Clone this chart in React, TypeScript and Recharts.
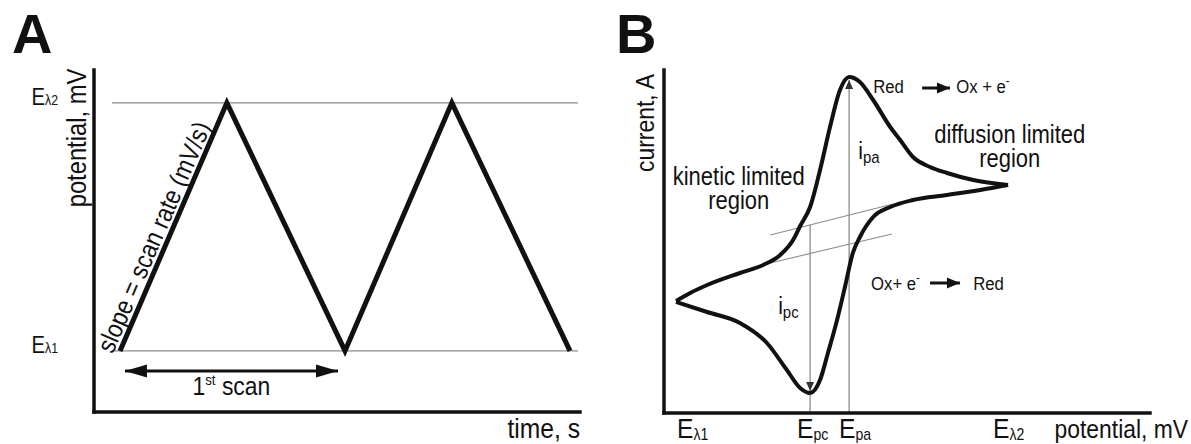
import React from "react";
import { LineChart, Line, XAxis, YAxis, ReferenceLine, ReferenceDot } from "recharts";

const FONT = "'Liberation Sans', Arial, Helvetica, sans-serif";
const INK = "#111111";
const GUIDE = "#8c8c8c";
const SQUEEZE = 0.88; // source lettering is slightly condensed

// ---- A: applied potential vs time (triangular sweep)
const scanTime = [0, 9.5, 20, 29.5, 40]; // s
const scanPotential = [-200, 600, -200, 600, -200]; // mV
const switchPotentials = [-200, 600]; // E_λ1, E_λ2
const switchNames = ["λ1", "λ2"];

// ---- B: cyclic voltammogram (forward = anodic sweep, reverse = cathodic sweep)
const forwardE = [-200, -166, -125, -46, 10, 51, 82, 99, 123, 147, 171, 195, 217, 243, 275, 316, 340, 371, 412, 453, 516, 600];
const forwardI = [-0.1, 0.7, 1.5, 2.7, 3.5, 4.5, 6.0, 7.4, 9.3, 13.0, 17.3, 21.0, 22.3, 21.8, 20.0, 17.3, 16.0, 14.3, 13.3, 12.7, 12.0, 11.5];
const reverseE = [-200, -125, -46, 19, 67, 99, 123, 147, 166, 188, 207, 226, 243, 275, 316, 371, 453, 533, 600];
const reverseI = [-0.2, -1.2, -2.3, -4.3, -7.0, -8.8, -9.3, -8.0, -5.3, -2.0, 1.3, 4.7, 6.3, 8.3, 9.3, 10.0, 10.5, 11.0, 11.5];
const cvTicks = [-200, 123, 217, 600]; // E_λ1, E_pc, E_pa, E_λ2
const cvTickNames = ["λ1", "pc", "pa", "λ2"];
const epc = 123;
const epa = 217;
// extrapolated baselines for reading the peak currents
const upperBaseE = [27, 323];
const upperBaseI = [6.5, 9.6];
const lowerBaseE = [27, 320];
const lowerBaseI = [3.7, 6.6];

const waveData = scanTime.map((t, i) => ({ time: t, potential: scanPotential[i] }));
const forwardData = forwardE.map((e, i) => ({ potential: e, current: forwardI[i] }));
const reverseData = reverseE.map((e, i) => ({ potential: e, current: reverseI[i] }));

const cvTickNudge = [1, -13, -10, -15];
const axisStyle = { stroke: INK, strokeWidth: 3.5, strokeLinecap: "square" as const };

function Txt({ x, y, size, anchor = "start", rotate = 0, children }: any) {
  return (
    <text
      transform={`translate(${x},${y}) rotate(${rotate}) scale(${SQUEEZE},1)`}
      x={0}
      y={0}
      fontSize={size}
      fontFamily={FONT}
      fill={INK}
      textAnchor={anchor}
    >
      {children}
    </text>
  );
}

// line with filled triangular heads, drawn from the reference line's end points
function arrowShape(heads: "start" | "end" | "both", stroke: string, width: number, len: number, spread: number, fill: string) {
  return (p: any) => {
    const { x1, y1, x2, y2 } = p;
    const L = Math.hypot(x2 - x1, y2 - y1) || 1;
    const ux = (x2 - x1) / L;
    const uy = (y2 - y1) / L;
    const tri = (tx: number, ty: number, dx: number, dy: number) => {
      const bx = tx - dx * len;
      const by = ty - dy * len;
      return `${tx},${ty} ${bx - (dy * spread) / 2},${by + (dx * spread) / 2} ${bx + (dy * spread) / 2},${by - (dx * spread) / 2}`;
    };
    const atStart = heads !== "end";
    const atEnd = heads !== "start";
    return (
      <g>
        <line x1={x1} y1={y1} x2={x2} y2={y2} stroke={stroke} strokeWidth={width} />
        {atStart && <polygon points={tri(x1, y1, -ux, -uy)} fill={fill} />}
        {atEnd && <polygon points={tri(x2, y2, ux, uy)} fill={fill} />}
      </g>
    );
  };
}

const WaveTick = (p: any) => {
  const i = switchPotentials.indexOf(p.payload.value);
  return (
    <Txt x={p.x - 36} y={p.y + 2} size={23} anchor="end">
      E<tspan fontSize={14}>{switchNames[i]}</tspan>
    </Txt>
  );
};

const CvTick = (p: any) => {
  const i = cvTicks.indexOf(p.payload.value);
  return (
    <Txt x={p.x + cvTickNudge[i]} y={p.y + 25} size={28}>
      E<tspan fontSize={16} dy={2}>{cvTickNames[i]}</tspan>
    </Txt>
  );
};

const TimeLabel = ({ viewBox }: any) =>
  viewBox ? (
    <Txt x={viewBox.x + viewBox.width} y={viewBox.y + 26} size={28} anchor="end">
      time, s
    </Txt>
  ) : null;

const PotentialLabelA = ({ viewBox }: any) =>
  viewBox ? (
    <Txt x={viewBox.x + viewBox.width - 8} y={viewBox.y + 68} size={27} anchor="middle" rotate={-90}>
      potential, mV
    </Txt>
  ) : null;

const PotentialLabelB = ({ viewBox }: any) =>
  viewBox ? (
    <Txt x={viewBox.x + viewBox.width + 38} y={viewBox.y + 25} size={26} anchor="end">
      potential, mV
    </Txt>
  ) : null;

const CurrentLabel = ({ viewBox }: any) =>
  viewBox ? (
    <Txt x={viewBox.x + viewBox.width - 10} y={viewBox.y + 53} size={26} anchor="middle" rotate={-90}>
      current, A
    </Txt>
  ) : null;

const letterStyle: React.CSSProperties = {
  position: "absolute",
  font: `bold 56px/56px ${FONT}`,
  color: INK,
};

export default function App() {
  return (
    <div style={{ position: "absolute", left: 0, top: 0, width: 1191, height: 444, background: "#fff", overflow: "hidden" }}>
      <div style={{ ...letterStyle, left: 12, top: 6 }}>A</div>
      <div style={{ ...letterStyle, left: 616, top: 6 }}>B</div>

      <div style={{ position: "absolute", left: 0, top: 0 }}>
        <LineChart width={600} height={444} margin={{ top: 70, right: 20, bottom: 0, left: 0 }}>
          <XAxis
            type="number"
            dataKey="time"
            domain={[-2.31, 40.89]}
            allowDataOverflow
            height={32}
            tick={false}
            tickLine={false}
            axisLine={axisStyle}
            label={{ content: TimeLabel }}
          />
          <YAxis
            type="number"
            domain={[-397, 706]}
            allowDataOverflow
            width={94}
            ticks={switchPotentials}
            interval={0}
            tick={WaveTick}
            tickLine={false}
            tickSize={0}
            tickMargin={0}
            axisLine={axisStyle}
            label={{ content: PotentialLabelA }}
          />
          {switchPotentials.map((e) => (
            <ReferenceLine
              key={e}
              segment={[{ x: -0.71, y: e }, { x: 40.71, y: e }]}
              stroke={GUIDE}
              strokeWidth={1.2}
              ifOverflow="visible"
            />
          ))}
          <Line
            data={waveData}
            dataKey="potential"
            type="linear"
            stroke={INK}
            strokeWidth={5}
            dot={false}
            isAnimationActive={false}
          />
          <ReferenceLine
            segment={[{ x: 0.44, y: -264.5 }, { x: 19.38, y: -264.5 }]}
            ifOverflow="visible"
            shape={arrowShape("both", INK, 3, 22, 13, INK)}
          />
          <ReferenceDot
            x={9.9}
            y={-342}
            ifOverflow="visible"
            shape={(p: any) => (
              <Txt x={p.cx} y={p.cy} size={26} anchor="middle">
                1<tspan fontSize={15} dy={-10}>st</tspan>
                <tspan dy={10}> scan</tspan>
              </Txt>
            )}
          />
          <ReferenceDot
            x={4.14}
            y={150}
            ifOverflow="visible"
            shape={(p: any) => (
              <text
                transform={`translate(${p.cx},${p.cy}) rotate(-66.6) scale(${SQUEEZE},1)`}
                x={0}
                y={-5}
                fontSize={26}
                fontFamily={FONT}
                fill={INK}
                textAnchor="middle"
              >
                slope = scan rate (mV/s)
              </text>
            )}
          />
        </LineChart>
      </div>

      <div style={{ position: "absolute", left: 620, top: 0 }}>
        <LineChart width={571} height={444} margin={{ top: 70, right: 41, bottom: 0, left: 0 }}>
          <XAxis
            type="number"
            dataKey="potential"
            domain={[-229, 942]}
            allowDataOverflow
            height={31}
            ticks={cvTicks}
            interval={0}
            tick={CvTick}
            tickLine={false}
            tickSize={0}
            tickMargin={0}
            axisLine={axisStyle}
            label={{ content: PotentialLabelB }}
          />
          <YAxis
            type="number"
            domain={[-11.3, 23]}
            allowDataOverflow
            width={44}
            tick={false}
            tickLine={false}
            axisLine={axisStyle}
            label={{ content: CurrentLabel }}
          />
          <ReferenceLine
            segment={[{ x: upperBaseE[0], y: upperBaseI[0] }, { x: upperBaseE[1], y: upperBaseI[1] }]}
            stroke={GUIDE}
            strokeWidth={1.1}
            ifOverflow="visible"
          />
          <ReferenceLine
            segment={[{ x: lowerBaseE[0], y: lowerBaseI[0] }, { x: lowerBaseE[1], y: lowerBaseI[1] }]}
            stroke={GUIDE}
            strokeWidth={1.1}
            ifOverflow="visible"
          />
          <ReferenceLine
            segment={[{ x: epa, y: 22.0 }, { x: epa, y: -11.3 }]}
            ifOverflow="visible"
            shape={arrowShape("start", GUIDE, 1.3, 9, 8, "#333")}
          />
          <ReferenceLine
            segment={[{ x: epc, y: 7.5 }, { x: epc, y: -9.1 }]}
            ifOverflow="visible"
            shape={arrowShape("end", GUIDE, 1.3, 9, 8, "#333")}
          />
          <ReferenceLine
            segment={[{ x: epc, y: -9.1 }, { x: epc, y: -11.3 }]}
            stroke={GUIDE}
            strokeWidth={1.3}
            ifOverflow="visible"
          />
          <Line
            data={forwardData}
            dataKey="current"
            type="monotone"
            stroke={INK}
            strokeWidth={4}
            dot={false}
            isAnimationActive={false}
          />
          <Line
            data={reverseData}
            dataKey="current"
            type="monotone"
            stroke={INK}
            strokeWidth={4}
            dot={false}
            isAnimationActive={false}
          />
          <ReferenceDot
            x={-49}
            y={11.5}
            ifOverflow="visible"
            shape={(p: any) => (
              <Txt x={p.cx} y={p.cy} size={25} anchor="middle">
                kinetic limited
                <tspan x={0} dy={24}>region</tspan>
              </Txt>
            )}
          />
          <ReferenceDot
            x={604}
            y={15.7}
            ifOverflow="visible"
            shape={(p: any) => (
              <Txt x={p.cx} y={p.cy} size={25} anchor="middle">
                diffusion limited
                <tspan x={0} dy={24}>region</tspan>
              </Txt>
            )}
          />
          <ReferenceDot
            x={239}
            y={14.1}
            ifOverflow="visible"
            shape={(p: any) => (
              <Txt x={p.cx} y={p.cy} size={24}>
                i<tspan fontSize={17} dy={4}>pa</tspan>
              </Txt>
            )}
          />
          <ReferenceDot
            x={46}
            y={-1.4}
            ifOverflow="visible"
            shape={(p: any) => (
              <Txt x={p.cx} y={p.cy} size={24}>
                i<tspan fontSize={17} dy={4}>pc</tspan>
              </Txt>
            )}
          />
          <ReferenceDot
            x={275}
            y={20.7}
            ifOverflow="visible"
            shape={(p: any) => (
              <Txt x={p.cx} y={p.cy} size={19}>
                Red
              </Txt>
            )}
          />
          <ReferenceLine
            segment={[{ x: 393, y: 21.2 }, { x: 460, y: 21.2 }]}
            ifOverflow="visible"
            shape={arrowShape("end", INK, 3, 13, 11, INK)}
          />
          <ReferenceDot
            x={475}
            y={20.7}
            ifOverflow="visible"
            shape={(p: any) => (
              <Txt x={p.cx} y={p.cy} size={19}>
                Ox + e<tspan fontSize={13} dy={-8}>-</tspan>
              </Txt>
            )}
          />
          <ReferenceDot
            x={270}
            y={1.0}
            ifOverflow="visible"
            shape={(p: any) => (
              <Txt x={p.cx} y={p.cy} size={19}>
                Ox+ e<tspan fontSize={13} dy={-8}>-</tspan>
              </Txt>
            )}
          />
          <ReferenceLine
            segment={[{ x: 412, y: 1.7 }, { x: 484, y: 1.7 }]}
            ifOverflow="visible"
            shape={arrowShape("end", INK, 3, 13, 11, INK)}
          />
          <ReferenceDot
            x={516}
            y={1.0}
            ifOverflow="visible"
            shape={(p: any) => (
              <Txt x={p.cx} y={p.cy} size={19}>
                Red
              </Txt>
            )}
          />
        </LineChart>
      </div>
    </div>
  );
}
